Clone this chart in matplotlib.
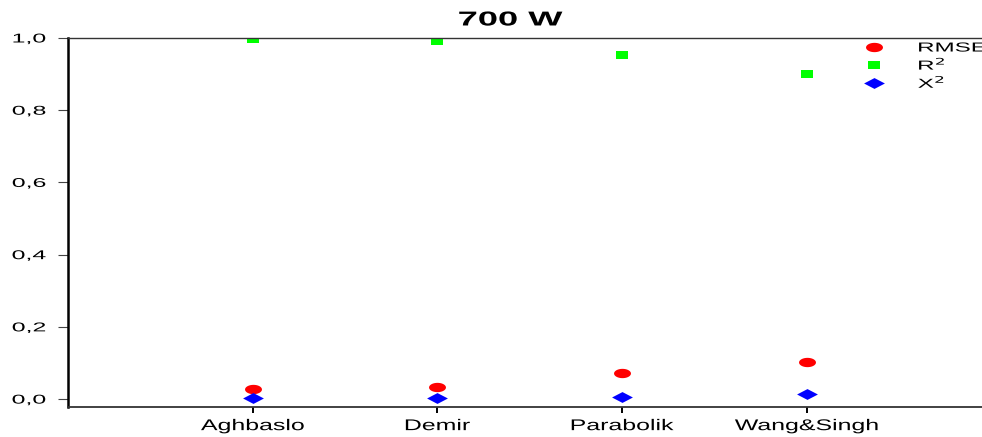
import numpy as np
import matplotlib.pyplot as plt
from matplotlib.ticker import FuncFormatter
from matplotlib.patheffects import AbstractPathEffect
from matplotlib.transforms import Affine2D
from matplotlib.path import Path

plt.rcParams['font.family'] = ['Liberation Sans', 'DejaVu Sans']

models = ['Aghbaslo', 'Demir', 'Parabolik', 'Wang&Singh']
rmse = [0.028, 0.034, 0.073, 0.103]
r2 = [0.997, 0.992, 0.953, 0.900]
chi2 = [0.002, 0.002, 0.006, 0.013]

x = np.arange(1, len(models) + 1)


class StretchX(AbstractPathEffect):
    """Widen glyphs horizontally around a fixed anchor."""

    def __init__(self, sx, anchor='center'):
        super().__init__()
        self.sx = sx
        self.anchor = anchor

    def draw_path(self, renderer, gc, tpath, affine, rgbFace=None):
        v = tpath.vertices
        if tpath.codes is not None:
            v = v[tpath.codes != Path.CLOSEPOLY]
        x0, x1 = v[:, 0].min(), v[:, 0].max()
        cx = {'left': x0, 'center': 0.5 * (x0 + x1), 'right': x1}[self.anchor]
        t = Affine2D().translate(-cx, 0).scale(self.sx, 1).translate(cx, 0) + affine
        renderer.draw_path(gc, tpath, t, rgbFace)


# flattened marker shapes
t = np.linspace(0, 2 * np.pi, 40)
ellipse = np.column_stack([np.cos(t), 0.55 * np.sin(t)])
rect = [(-1, -0.67), (1, -0.67), (1, 0.67), (-1, 0.67), (-1, -0.67)]
diamond = [(-1, 0), (0, 0.52), (1, 0), (0, -0.52), (-1, 0)]

fig = plt.figure(figsize=(9.82, 4.37), dpi=100)
ax = fig.add_axes([0.0692, 0.0686, 0.9308, 0.8445])

ax.plot(x, rmse, linestyle='none', marker=ellipse, markersize=12.2,
        color='#ff0000', markeredgewidth=0, label='RMSE')
ax.plot(x, r2, linestyle='none', marker=rect, markersize=8.8,
        color='#00ff00', markeredgewidth=0, label='R$^2$')
ax.plot(x, chi2, linestyle='none', marker=diamond, markersize=15,
        color='#0000ff', markeredgewidth=0, label='X$^2$')

ax.set_xlim(0, 4.95)
ax.set_ylim(-0.022, 1.0)
ax.set_xticks(x)
ax.set_xticklabels(models, fontsize=11.2)
ax.set_yticks(np.arange(0, 1.01, 0.2))
ax.yaxis.set_major_formatter(FuncFormatter(lambda v, p: f'{v:.1f}'.replace('.', ',')))
ax.tick_params(axis='y', labelsize=9.2, length=7, width=0.8, color='#444444', pad=9)
ax.tick_params(axis='x', length=4, width=1.4, pad=4)

plt.setp(ax.get_xticklabels(), path_effects=[StretchX(1.6, 'center')])
plt.setp(ax.get_yticklabels(), path_effects=[StretchX(1.95, 'right')])

ax.spines['left'].set_linewidth(1.8)
ax.spines['left'].set_color('black')
ax.spines['bottom'].set_linewidth(1.3)
ax.spines['bottom'].set_color('#333333')
ax.spines['top'].set_linewidth(1.0)
ax.spines['top'].set_color('#333333')
ax.spines['right'].set_visible(False)

title = ax.set_title('700 W', fontsize=14.5, fontweight='bold', pad=9, x=0.484)
title.set_path_effects([StretchX(1.8, 'center')])

leg = ax.legend(loc='upper left', bbox_to_anchor=(0.879, 0.903), bbox_transform=fig.transFigure,
                frameon=False, fontsize=9.4, borderpad=0, borderaxespad=0,
                handletextpad=2.6, labelspacing=0.12, handlelength=1.6)
for txt in leg.get_texts():
    txt.set_path_effects([StretchX(1.85, 'left')])

fig.savefig('out.png', dpi=100)
